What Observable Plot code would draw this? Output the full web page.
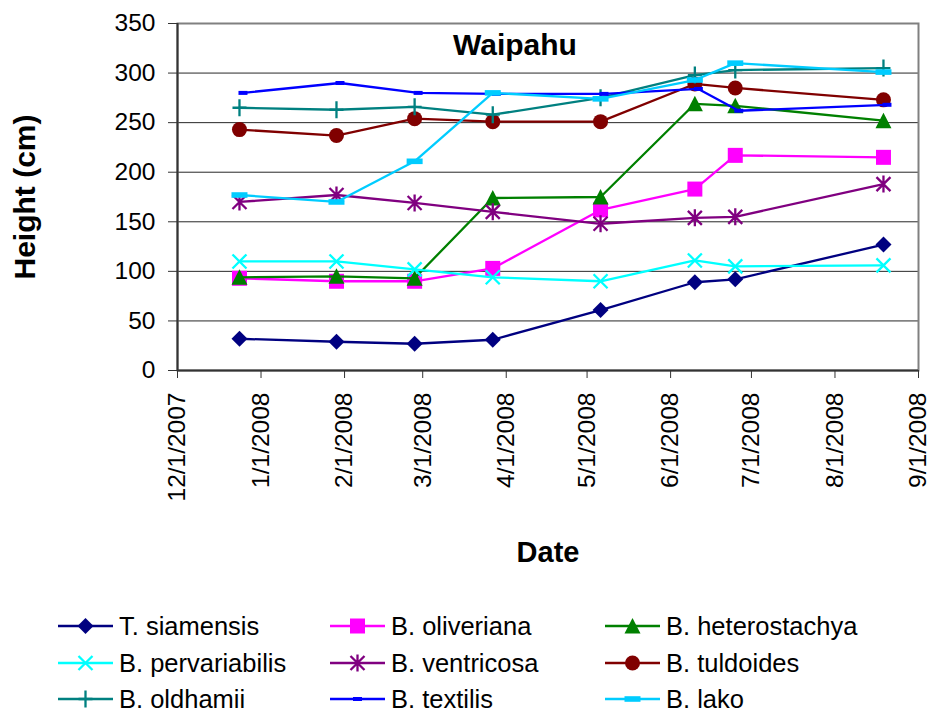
<!DOCTYPE html>
<html><head><meta charset="utf-8">
<script src="https://cdn.jsdelivr.net/npm/d3@7"></script>
<script src="https://cdn.jsdelivr.net/npm/@observablehq/plot@0.6"></script>
<style>
body{margin:0;background:#fff;font-family:"Liberation Sans",Arial,sans-serif;overflow:hidden;}
#legend{position:relative;width:930px;height:135px;}
.item{position:absolute;display:flex;align-items:center;height:28px;line-height:28px;font-size:25.5px;color:#000;white-space:nowrap;}
.item svg{margin-right:6px;overflow:visible;}
</style></head><body>
<div id="chart"></div><div id="legend"></div>
<script>
// ---- data ----
const sampleDates = ["2007-12-24","2008-01-29","2008-02-27","2008-03-27","2008-05-06","2008-06-10","2008-06-25","2008-08-19"];
const species = ["T. siamensis","B. oliveriana","B. heterostachya","B. pervariabilis","B. ventricosa","B. tuldoides","B. oldhamii","B. textilis","B. lako"];
const siamensis     = [32, 29, 27, 31, 61, 89, 92, 127];
const oliveriana    = [93, 90, 90, 103, 162, 183, 217, 215];
const heterostachya = [94, 95, 93, 174, 175, 269, 267, 252];
const pervariabilis = [110, 110, 102, 94, 90, 111, 105, 106];
const ventricosa    = [170, 177, 169, 160, 148, 154, 155, 188];
const tuldoides     = [243, 237, 254, 251, 251, 289, 285, 273];
const oldhamii      = [265, 263, 266, 258, 275, 298, 303, 305];
const textilis      = [280, 290, 280, 279, 279, 284, 262, 268];
const lako          = [177, 170, 211, 280, 274, 293, 310, 301];
const xTickLabels = ["12/1/2007","1/1/2008","2/1/2008","3/1/2008","4/1/2008","5/1/2008","6/1/2008","7/1/2008","8/1/2008","9/1/2008"];
const yTicks = [0, 50, 100, 150, 200, 250, 300, 350];

// ---- styles ----
const colors = ["#000080","#FF00FF","#008000","#00FFFF","#800080","#800000","#008080","#0000FF","#00CCFF"];
const sym = {
  diamond: {draw(c){c.moveTo(0,-8);c.lineTo(8,0);c.lineTo(0,8);c.lineTo(-8,0);c.closePath();}},
  square: {draw(c){c.rect(-7.5,-7.5,15,15);}},
  triangle: {draw(c){c.moveTo(0,-8);c.lineTo(8,7.5);c.lineTo(-8,7.5);c.closePath();}},
  times: {draw(c){c.moveTo(-7,-7);c.lineTo(7,7);c.moveTo(7,-7);c.lineTo(-7,7);}},
  asterisk: {draw(c){c.moveTo(-7,-7);c.lineTo(7,7);c.moveTo(7,-7);c.lineTo(-7,7);c.moveTo(0,-8.5);c.lineTo(0,8.5);}},
  circle: {draw(c){c.moveTo(7.5,0);c.arc(0,0,7.5,0,2*Math.PI);}},
  plus: {draw(c){c.moveTo(-7,0);c.lineTo(7,0);c.moveTo(0,-8.5);c.lineTo(0,8.5);}},
  smalldash: {draw(c){c.rect(-4.5,-2,9,4);}},
  dash: {draw(c){c.rect(-8,-2.8,16,5.6);}}
};
const symbols = [sym.diamond, sym.square, sym.triangle, sym.times, sym.asterisk, sym.circle, sym.plus, sym.smalldash, sym.dash];
const stroked = [false,false,false,true,true,false,true,false,false];
const shift = [0,0,0,0,0,0,0,3.5,0];

const values = [siamensis, oliveriana, heterostachya, pervariabilis, ventricosa, tuldoides, oldhamii, textilis, lako];
const parseDate = d3.utcParse("%Y-%m-%d");
const parseTick = d3.utcParse("%m/%d/%Y");
const xTicks = xTickLabels.map(parseTick);
const series = species.map((name, i) => sampleDates.map((d, j) => ({species: name, date: parseDate(d), value: values[i][j]})));

const marks = [
  Plot.gridY(yTicks, {stroke: "#000", strokeOpacity: 0.85, strokeWidth: 1}),
  Plot.frame({stroke: "#808080", strokeWidth: 2}),
  Plot.ruleY([0], {stroke: "#333", strokeWidth: 2}),
  Plot.ruleX([xTicks[0]], {stroke: "#333", strokeWidth: 2}),
  Plot.axisX(xTicks, {tickRotate: -90, tickSize: 8, tickPadding: 14, fontSize: 24.5, tickFormat: d3.utcFormat("%-m/%-d/%Y"), label: null, stroke: "#333"}),
  Plot.axisY(yTicks, {tickSize: 9, tickPadding: 13, fontSize: 24.5, label: null, stroke: "#333"})
];
series.forEach((data, i) => {
  marks.push(Plot.lineY(data, {x: "date", y: "value", stroke: colors[i], strokeWidth: 2.3, dx: shift[i]}));
  marks.push(Plot.dot(data, {x: "date", y: "value", r: 5, symbol: symbols[i], dx: shift[i],
    fill: stroked[i] ? "none" : colors[i], stroke: stroked[i] ? colors[i] : "none", strokeWidth: stroked[i] ? 2.3 : 0}));
});
marks.push(
  Plot.text(["Waipahu"], {frameAnchor: "top", dx: -33, dy: 22, fontSize: 30, fontWeight: "bold", lineAnchor: "middle", textAnchor: "middle", fill: "#000"}),
  Plot.text(["Height (cm)"], {frameAnchor: "left", dx: -152, rotate: -90, fontSize: 30, fontWeight: "bold", lineAnchor: "middle", textAnchor: "middle", fill: "#000"}),
  Plot.text(["Date"], {frameAnchor: "bottom", dy: 182, fontSize: 29, fontWeight: "bold", lineAnchor: "middle", textAnchor: "middle", fill: "#000"})
);

const chart = Plot.plot({
  width: 930, height: 580,
  marginLeft: 177, marginRight: 12, marginTop: 23, marginBottom: 210,
  style: {fontFamily: '"Liberation Sans", Arial, sans-serif', color: "#000", background: "#fff", overflow: "visible"},
  x: {type: "utc", domain: [xTicks[0], xTicks[xTicks.length - 1]]},
  y: {domain: [0, 350]},
  marks
});
document.getElementById("chart").appendChild(chart);

// ---- legend ----
const legend = document.getElementById("legend");
const colX = [58, 330, 605];
const rowY = [626, 663, 699];
species.forEach((name, i) => {
  const item = document.createElement("div");
  item.className = "item";
  item.style.left = colX[i % 3] + "px";
  item.style.top = (rowY[Math.floor(i / 3)] - 580 - 14) + "px";
  const p = d3.path(); symbols[i].draw(p, 0);
  const fill = stroked[i] ? "none" : colors[i];
  const stroke = stroked[i] ? colors[i] : "none";
  item.innerHTML = `<svg width="55" height="28" viewBox="0 0 55 28">
    <line x1="0" y1="14" x2="55" y2="14" stroke="${colors[i]}" stroke-width="2.5"/>
    <path transform="translate(27.5,14)" d="${p.toString()}" fill="${fill}" stroke="${stroke}" stroke-width="2.3"/>
  </svg><span>${name}</span>`;
  legend.appendChild(item);
});
</script></body></html>
